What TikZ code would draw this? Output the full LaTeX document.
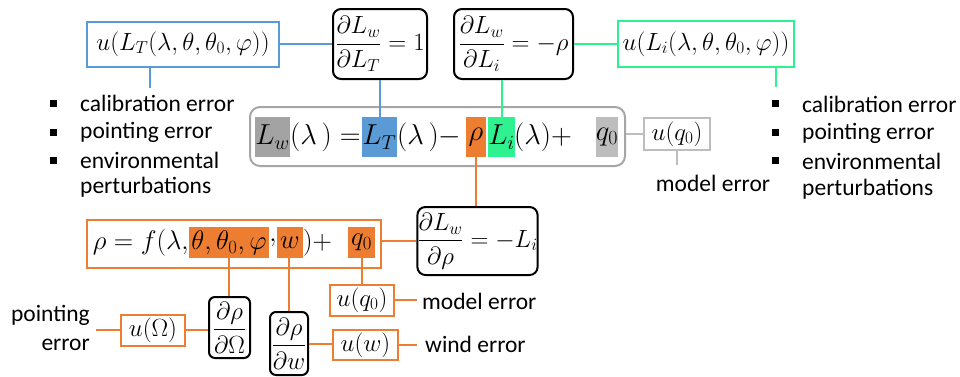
\documentclass[tikz,border=0pt]{standalone}
\usepackage{amsmath}
\usepackage{graphicx}
\usepackage{fontspec}
\setmainfont{Carlito}
\definecolor{myblue}{HTML}{5B9BD5}
\definecolor{myorange}{HTML}{ED7D31}
\definecolor{mygreen}{HTML}{2EF290}
\definecolor{mygrayA}{HTML}{A3A3A3}
\definecolor{mygrayB}{HTML}{BDBDBD}
\definecolor{mygrayline}{HTML}{A6A6A6}
\newcommand{\EqBig}[1]{\scalebox{1.16}{$#1$}}
\newcommand{\EqMid}[1]{\scalebox{1.08}{$#1$}}
\tikzset{
  every node/.style={font=\fontsize{23.5}{28}\selectfont, inner sep=0pt},
  fixbox/.style n args={2}{minimum width=#1, minimum height=#2, align=center},
  bluebox/.style={draw=myblue, line width=2pt},
  greenbox/.style={draw=mygreen, line width=2pt},
  orangebox/.style={draw=myorange, line width=2pt},
  graybox/.style={draw=mygrayB, line width=2pt},
  derivbox/.style={draw=black, line width=2pt, rounded corners=8pt},
  hlgrayA/.style={fill=mygrayA},
  hlgrayB/.style={fill=mygrayB},
  hlblue/.style={fill=myblue},
  hlorange/.style={fill=myorange},
  hlgreen/.style={fill=mygreen},
  bul/.style={fill=black, minimum size=7pt},
  lbl/.style={anchor=west},
  blueline/.style={draw=myblue, line width=2pt},
  greenline/.style={draw=mygreen, line width=2pt},
  orangeline/.style={draw=myorange, line width=2pt},
  grayline/.style={draw=mygrayB, line width=2pt},
}
\begin{document}
\begin{tikzpicture}[x=1pt,y=-1pt]
\useasboundingbox (0,0) rectangle (960,376);

% ---------- top row ----------
\node[bluebox, fixbox={192pt}{45pt}] (uLT) at (183,44) {$u(L_T(\lambda,\theta,\theta_0,\varphi))$};
\node[derivbox, fixbox={94pt}{70pt}] (dLT) at (380,44) {$\dfrac{\partial L_w}{\partial L_T}=1$};
\node[derivbox, fixbox={119pt}{70pt}] (dLi) at (513.5,44) {$\dfrac{\partial L_w}{\partial L_i}=-\rho$};
\node[greenbox, fixbox={176pt}{46pt}] (uLi) at (706,44) {$u(L_i(\lambda,\theta,\theta_0,\varphi))$};

% ---------- main equation ----------
\node[draw=mygrayline, line width=2pt, rounded corners=10pt, fixbox={375pt}{59pt}] (main) at (437.5,136.5) {};
\node[hlgrayA, fixbox={35pt}{40pt}] (Lw) at (272.5,137) {\EqBig{L_w}};
\node[anchor=west] (p1) at (290,137) {\EqBig{(\lambda\,)=}};
\node[hlblue, fixbox={35pt}{40pt}] (LT) at (379.5,137) {\EqBig{L_T}};
\node[anchor=west] (p2) at (397,137) {\EqBig{(\lambda\,)-}};
\node[hlorange, fixbox={20pt}{40pt}] (rho) at (476,137) {\EqBig{\rho}};
\node[hlgreen, fixbox={25pt}{40pt}] (Li) at (501.5,137) {\EqBig{L_i}};
\node[anchor=west] (p3) at (514,137) {\EqBig{(\lambda)+}};
\node[hlgrayB, fixbox={22pt}{40pt}] (q0) at (607,137) {\EqBig{q_0}};

\node[graybox, fixbox={66pt}{32pt}] (uq0g) at (677,134) {$u(q_0)$};
\node (me1) at (713,183) {model error};
\coordinate (me1top) at (677,165);

% ---------- bullet lists ----------
\node[bul] (lb1) at (53,103) {};
\node[bul] (lb2) at (53,132) {};
\node[bul] (lb3) at (53,160) {};
\node[lbl] (lt1) at (80,103) {calibration error};
\node[lbl] (lt2) at (80,132) {pointing error};
\node[lbl] (lt3) at (80,160) {environmental};
\node[lbl] (lt4) at (80,187) {perturbations};
\coordinate (lend) at (150,88);

\node[bul] (rb1) at (775,103) {};
\node[bul] (rb2) at (775,132) {};
\node[bul] (rb3) at (775,160) {};
\node[lbl] (rt1) at (802,104) {calibration error};
\node[lbl] (rt2) at (802,133) {pointing error};
\node[lbl] (rt3) at (802,161) {environmental};
\node[lbl] (rt4) at (802,189) {perturbations};
\coordinate (rend) at (776,87);

% ---------- rho derivative ----------
\node[derivbox, fixbox={119pt}{68pt}] (drho) at (477.5,241) {$\dfrac{\partial L_w}{\partial \rho}=-L_i$};

% ---------- rho formula ----------
\node[orangebox, fixbox={294pt}{48pt}] (form) at (234,244) {};
\node[anchor=east] (f1) at (189,242.5) {\EqMid{\rho=f(\lambda,}};
\node[hlorange, fixbox={80pt}{31pt}] (tt) at (229,242.5) {\EqMid{\theta,\theta_0,\varphi}};
\node (f2) at (273,242.5) {\EqMid{,}};
\node[hlorange, fixbox={26pt}{31pt}] (w) at (290,242.5) {\EqMid{w}};
\node[anchor=west] (f3) at (303,242.5) {\EqMid{)+}};
\node[hlorange, fixbox={27pt}{31pt}] (q0o) at (361.5,242.5) {\EqMid{q_0}};

\node[derivbox, rounded corners=6pt, fixbox={41pt}{61pt}] (dOm) at (229.5,327.5) {$\dfrac{\partial\rho}{\partial\Omega}$};
\node[derivbox, rounded corners=6pt, fixbox={38pt}{63pt}] (dw) at (289,343.5) {$\dfrac{\partial\rho}{\partial w}$};
\node[orangebox, fixbox={64pt}{31pt}] (uq0o) at (362,300) {$u(q_0)$};
\node[orangebox, fixbox={64pt}{31pt}] (uOm) at (153,330) {$u(\Omega)$};
\node[orangebox, fixbox={65pt}{30pt}] (uw) at (365.5,345) {$u(w)$};

\coordinate (me2c) at (417,300);
\node[lbl] (me2) at (422,301) {model error};
\coordinate (pec) at (96,330);
\node[anchor=east, align=right, font=\fontsize{23.5}{29}\selectfont] (pe) at (90,328) {pointing\\error};
\coordinate (wec) at (417,345);
\node[lbl] (we) at (425,344) {wind error};

% ---------- connectors ----------
\draw[blueline] (uLT.east |- dLT.west) -- (dLT.west);
\draw[blueline] (lend |- uLT.south) -- (lend);
\draw[blueline] (dLT.south) -- (LT.north -| dLT.south);
\draw[greenline] (Li.north |- dLi.south) -- (Li.north);
\draw[greenline] (dLi.east) -- (dLi.east -| uLi.west);
\draw[greenline] (rend |- uLi.south) -- (rend);
\draw[grayline] (main.east |- uq0g.west) -- (uq0g.west);
\draw[grayline] (uq0g.south) -- (me1top);
\draw[orangeline] (rho.south) -- (rho.south |- drho.north);
\draw[orangeline] (drho.west) -- (drho.west -| form.east);
\draw[orangeline] (tt.south) -- (tt.south |- dOm.north);
\draw[orangeline] (w.south -| dw.north) -- (dw.north);
\draw[orangeline] (q0o.south) -- (q0o.south |- uq0o.north);
\draw[orangeline] (uq0o.east) -- (me2c);
\draw[orangeline] (uOm.west) -- (pec);
\draw[orangeline] (uOm.east) -- (uOm.east -| dOm.west);
\draw[orangeline] (dw.east) -- (dw.east -| uw.west);
\draw[orangeline] (uw.east) -- (wec);
\end{tikzpicture}
\end{document}
